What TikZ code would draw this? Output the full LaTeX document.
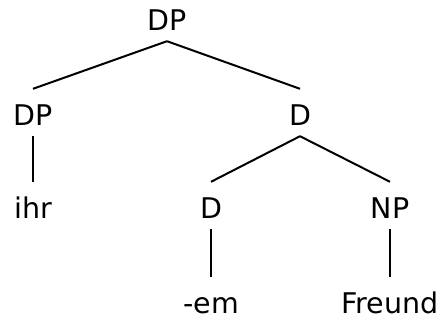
\documentclass[tikz,border=0pt]{standalone}
\usepackage{fontspec}
\setmainfont{DejaVu Sans}
\tikzset{
  cat/.style={anchor=base, inner sep=0pt, text height=36pt, text depth=11pt,
    font=\fontsize{28.5}{30}\selectfont},
  branch/.style={line width=2pt}
}
\begin{document}
\begin{tikzpicture}[x=1pt,y=-1pt]
    \useasboundingbox (0,0) rectangle (442,327);
    % labels
    \node[cat] (dp) at (167,30) {DP};
    \node[cat] (spec) at (33,125) {DP};
    \node[cat] (dbar) at (300,125) {D};
    \node[cat] (ihr) at (33,218) {ihr};
    \node[cat] (d) at (211,218) {D};
    \node[cat] (np) at (390,218) {NP};
    \node[cat] (em) at (211,313) {-em};
    \node[cat] (freund) at (390,313) {Freund};
    % branches
    \draw[branch] (dp.south)--(spec.north);
    \draw[branch] (dp.south)--(dbar.north);
    \draw[branch] (spec.south)--(ihr.north);
    \draw[branch] (dbar.south)--(d.north);
    \draw[branch] (dbar.south)--(np.north);
    \draw[branch] (d.south)--(em.north);
    \draw[branch] (np.south)--(freund.north);
\end{tikzpicture}
\end{document}
